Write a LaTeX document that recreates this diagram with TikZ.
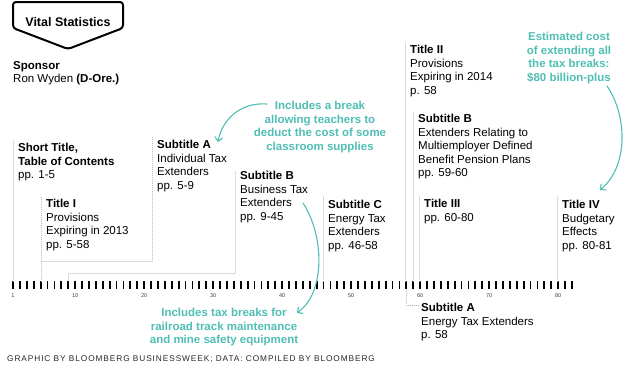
\documentclass[tikz,border=0pt]{standalone}
\usepackage{fontspec}
\setmainfont{Liberation Sans}
\usetikzlibrary{arrows.meta,calc}
\definecolor{noteteal}{RGB}{80,190,181}
\definecolor{leadergray}{RGB}{180,180,180}
\begin{document}
\begin{tikzpicture}[x=1pt, y=-1pt, line cap=round, line join=round,
  every node/.style={font=\fontsize{11.5}{13.6}\selectfont, inner sep=0pt},
  block/.style={anchor=north west, align=left},
  note/.style={anchor=north, align=center, text=noteteal, font=\bfseries\fontsize{11.5}{13.5}\selectfont},
  leader/.style={draw=leadergray, line width=.5pt, dash pattern=on .6pt off 1.4pt},
  note arrow/.style={draw=noteteal, line width=1.1pt, -{Straight Barb[length=4pt, width=8pt, line width=1.1pt]}}]
  \useasboundingbox (0,0) rectangle (630,378);

  % badge
  \draw[line width=2pt, rounded corners=3pt] (13,2) -- (123,2) -- (123,28) -- (68,49) -- (13,28) -- cycle;
  \node[font=\bfseries\fontsize{12.5}{14}\selectfont] (badge) at (68,22) {Vital Statistics};

  \node[block] (spon) at (13,61) {\textbf{Sponsor}\\Ron Wyden \textbf{(D-Ore.)}};

  % page ruler
  \foreach \i in {1,...,82} {
    \coordinate (p\i) at ({13+(\i-1)*6.9},281);
    \coordinate (q\i) at ({13+(\i-1)*6.9},289);
    \draw[line width=1.8pt, line cap=butt] (p\i) -- (q\i);
  }
  \foreach \n in {1,10,20,30,40,50,60,70,80}
    \node[font=\fontsize{5.5}{6}\selectfont, text=black!75] (lab\n) at ({13+(\n-1)*6.9},296) {\n};

  % sections
  \node[block] (st)  at (18,143)  {\textbf{Short Title,}\\\textbf{Table of Contents}\\pp. 1-5};
  \node[block] (t1)  at (46,199)  {\textbf{Title I}\\Provisions\\Expiring in 2013\\pp. 5-58};
  \node[block] (sa)  at (157,140) {\textbf{Subtitle A}\\Individual Tax\\Extenders\\pp. 5-9};
  \node[block] (sb)  at (240,171) {\textbf{Subtitle B}\\Business Tax\\Extenders\\pp. 9-45};
  \node[block] (sc)  at (328,200) {\textbf{Subtitle C}\\Energy Tax\\Extenders\\pp. 46-58};
  \node[block] (t2)  at (410,45)  {\textbf{Title II}\\Provisions\\Expiring in 2014\\p. 58};
  \node[block] (sbe) at (418,114) {\textbf{Subtitle B}\\Extenders Relating to\\Multiemployer Defined\\Benefit Pension Plans\\pp. 59-60};
  \node[block] (t3)  at (424,199) {\textbf{Title III}\\pp. 60-80};
  \node[block] (t4)  at (562,200) {\textbf{Title IV}\\Budgetary\\Effects\\pp. 80-81};
  \node[block] (sae) at (421,303) {\textbf{Subtitle A}\\Energy Tax Extenders\\p. 58};

  % leader lines
  \coordinate (j5) at ($(p5)+(0,-20)$);
  \coordinate (j9) at ($(p9)+(0,-8)$);
  \draw[leader] ([shift={(-4.5pt,2pt)}]st.north west) |- (p1);
  \draw[leader] ([shift={(-4.5pt,2pt)}]t1.north west) |- (p5);
  \draw[leader] ([shift={(-4.5pt,3pt)}]sa.north west) |- (j5);
  \draw[leader] ([shift={(-4.5pt,-1pt)}]sb.north west) |- (j9) -- (p9);
  \draw[leader] ([shift={(-4.5pt,3pt)}]sc.north west) |- (p46);
  \draw[leader] ([shift={(-4.5pt,2pt)}]t2.north west) |- (p58);
  \draw[leader] ([shift={(-4.5pt,1pt)}]sbe.north west) |- (p59);
  \draw[leader] ([shift={(-4.5pt,2pt)}]t3.north west) |- (p60);
  \draw[leader] ([shift={(-4.5pt,3pt)}]t4.north west) |- (p80);
  \draw[leader] (q58) |- ([shift={(-2pt,-2pt)}]sae.north west);

  % notes
  \node[note] (nteach) at (320,101) {Includes a break\\allowing teachers to\\deduct the cost of some\\classroom supplies};
  \node[note] (nrail)  at (224,308) {Includes tax breaks for\\railroad track maintenance\\and mine safety equipment};
  \node[note] (ncost)  at (569,32)  {Estimated cost\\of extending all\\the tax breaks:\\\$80 billion-plus};

  \coordinate (a1s) at (267,104); \coordinate (a1e) at (218,142);
  \coordinate (a2s) at (303,203); \coordinate (a2e) at (297,313);
  \coordinate (a3s) at (607,86);  \coordinate (a3e) at (600,190);
  \draw[note arrow] (a1s) .. controls (240,102) and (222,120) .. (a1e);
  \draw[note arrow] (a2s) .. controls (324,235) and (326,292) .. (a2e);
  \draw[note arrow] (a3s) .. controls (627,115) and (629,166) .. (a3e);

  \node[anchor=base west, text=black!85, font=\addfontfeatures{LetterSpace=11}\fontsize{8.3}{10}\selectfont] (credit) at (7,361)
    {GRAPHIC BY BLOOMBERG BUSINESSWEEK; DATA: COMPILED BY BLOOMBERG};
\end{tikzpicture}
\end{document}
